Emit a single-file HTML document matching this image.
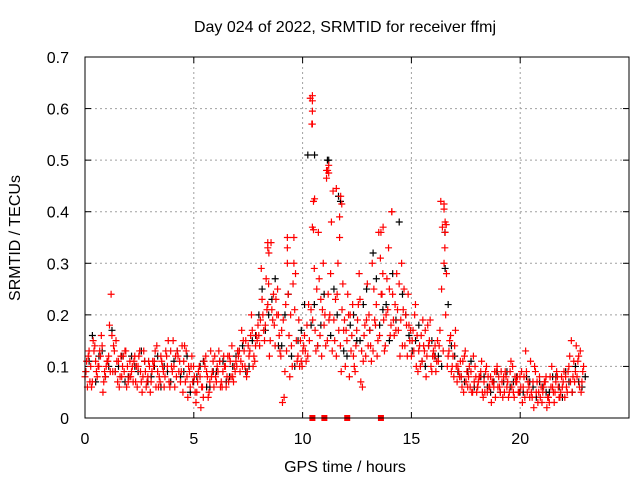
<!DOCTYPE html>
<html><head><meta charset="utf-8"><style>
body{margin:0;background:#fff;}
svg{display:block;font-family:"Liberation Sans",sans-serif;}
</style></head><body>
<svg id="chart" width="640" height="480" viewBox="0 0 640 480" xmlns="http://www.w3.org/2000/svg">
<rect width="640" height="480" fill="#fff"/>
<text x="345" y="32" text-anchor="middle" font-size="16" fill="#000">Day 024 of 2022, SRMTID for receiver ffmj</text>
<text x="345" y="472" text-anchor="middle" font-size="16" fill="#000">GPS time / hours</text>
<text x="20" y="238" text-anchor="middle" font-size="16" fill="#000" transform="rotate(-90 20 238)">SRMTID / TECUs</text>
<g id="grid"></g>
<g id="ticks"></g>
<g id="marks"></g>
<rect x="85" y="57" width="544" height="361" fill="none" stroke="#000" stroke-width="1"/>
</svg>
<script>
const xTicks=[0,5,10,15,20];
const yTicks=[0,0.1,0.2,0.3,0.4,0.5,0.6,0.7];
const yTickLabels=["0","0.1","0.2","0.3","0.4","0.5","0.6","0.7"];
const redAStart=0, redAStep=0.15;
const redA=[.08,.12,.06,.14,.10,.16,.09,.11,.24,.13,.07,.12,.09,.10,.08,.11,.06,.09,.13,.07,.05,.10,.14,.07,.09,.12,.06,.15,.08,.11,.05,.13,.09,.07,.03,.10,.06,.12,.05,.09,.08,.13,.06,.10,.07,.14,.09,.12,.17,.10,.14,.20,.11,.18,.29,.15,.22,.34,.18,.25,.12,.04,.30,.20,.35,.11,.15,.14,.18,.62,.42,.25,.16,.30,.48,.20,.44,.12,.35,.26,.17,.08,.22,.14,.28,.06,.12,.20,.30,.18,.36,.24,.14,.33,.40,.22,.17,.30,.14,.24,.12,.20,.09,.16,.13,.18,.10,.12,.15,.42,.30,.10,.16,.08,.07,.11,.05,.09,.06,.12,.05,.08,.04,.10,.06,.07,.09,.06,.04,.08,.05,.10,.07,.05,.03,.13,.06,.04,.09,.05,.03,.07,.04,.10,.05,.06,.08,.04,.09,.15,.07,.11,.05];
const redBStart=0.075, redBStep=0.15;
const redB=[.11,.07,.15,.09,.13,.05,.10,.18,.09,.15,.06,.10,.13,.08,.10,.07,.12,.05,.09,.11,.09,.13,.06,.11,.08,.15,.10,.06,.12,.09,.14,.04,.10,.08,.07,.02,.11,.08,.13,.06,.10,.06,.12,.08,.11,.07,.10,.09,.15,.08,.13,.10,.16,.14,.20,.27,.12,.19,.23,.16,.03,.22,.16,.10,.28,.19,.10,.13,.22,.57,.17,.36,.12,.20,.24,.38,.15,.30,.09,.19,.24,.13,.10,.19,.07,.16,.26,.14,.25,.12,.31,.19,.27,.16,.19,.28,.12,.21,.18,.15,.17,.10,.14,.19,.08,.15,.12,.09,.14,.37,.20,.13,.10,.17,.09,.06,.13,.08,.05,.10,.07,.11,.05,.08,.03,.09,.06,.09,.05,.07,.11,.04,.08,.06,.08,.05,.11,.02,.07,.04,.06,.02,.08,.05,.09,.04,.07,.06,.12,.08,.14,.06,.09];
const redCStart=0.037, redCStep=0.15;
const redC=[.09,.13,.07,.11,.10,.14,.08,.12,.16,.09,.11,.08,.13,.07,.09,.12,.10,.07,.11,.08,.07,.11,.09,.12,.06,.10,.13,.10,.13,.07,.11,.08,.06,.10,.05,.08,.04,.09,.07,.11,.07,.11,.09,.06,.12,.08,.11,.13,.10,.15,.12,.17,.14,.16,.23,.18,.26,.21,.14,.20,.17,.09,.24,.14,.21,.12,.11,.16,.12,.21,.29,.14,.23,.18,.15,.28,.19,.24,.14,.17,.15,.20,.12,.17,.23,.11,.19,.17,.13,.22,.16,.28,.20,.25,.24,.17,.26,.14,.20,.18,.15,.22,.13,.11,.17,.14,.09,.14,.11,.25,.33,.12,.09,.14,.10,.08,.12,.06,.09,.07,.06,.09,.07,.05,.08,.06,.10,.05,.08,.06,.09,.05,.07,.08,.06,.09,.04,.07,.05,.08,.05,.08,.03,.06,.07,.04,.06,.08,.10,.05,.09,.12,.07];
const redDStart=0.112, redDStep=0.15;
const redD=[.06,.10,.13,.08,.12,.07,.11,.09,.14,.11,.08,.12,.06,.11,.07,.10,.13,.08,.06,.10,.11,.06,.08,.10,.13,.07,.09,.12,.09,.14,.07,.10,.12,.05,.09,.06,.10,.04,.08,.12,.09,.07,.10,.12,.08,.10,.13,.11,.13,.09,.16,.12,.15,.19,.17,.21,.15,.24,.20,.13,.19,.13,.08,.26,.15,.10,.13,.11,.15,.19,.13,.27,.21,.14,.19,.13,.23,.17,.21,.10,.20,.16,.09,.22,.13,.18,.14,.11,.19,.15,.24,.13,.21,.18,.16,.21,.19,.25,.12,.17,.13,.16,.10,.14,.12,.19,.13,.11,.17,.13,.28,.15,.12,.10,.08,.11,.07,.10,.05,.08,.08,.05,.09,.06,.07,.04,.08,.07,.09,.04,.06,.08,.05,.09,.04,.07,.05,.10,.03,.06,.07,.04,.06,.03,.08,.05,.09,.05,.07,.11,.08,.13,.10];
const blackStart=0.04, blackStep=0.3;
const blackVals=[.09,.16,.12,.08,.17,.10,.07,.12,.09,.11,.08,.12,.10,.07,.13,.09,.05,.08,.11,.06,.09,.11,.08,.12,.14,.10,.16,.25,.20,.27,.14,.24,.10,.17,.51,.22,.18,.50,.25,.42,.12,.20,.15,.25,.32,.18,.22,.28,.38,.20,.13,.18,.10,.15,.12,.36,.14,.09,.07,.11,.06,.08,.05,.09,.07,.06,.08,.05,.07,.04,.06,.05,.08,.04,.07,.10,.06];
const black2Start=0.19, black2Step=0.3;
const black2Vals=[.11,.07,.13,.10,.09,.12,.08,.10,.13,.07,.10,.06,.09,.11,.08,.12,.07,.10,.06,.09,.11,.07,.10,.13,.09,.15,.20,.17,.23,.14,.20,.12,.15,.22,.18,.14,.24,.16,.20,.13,.18,.15,.22,.17,.27,.21,.15,.19,.24,.16,.15,.11,.14,.12,.10,.22,.12,.08,.09,.06,.08,.06,.07,.05,.09,.07,.05,.08,.06,.07,.05,.08,.06,.09,.05,.07,.08];
const redExtraX=[10.45,10.45,10.45,10.45,10.55,10.5,10.45,11.2,11.15,11.2,11.1,11.55,11.75,11.8,11.7,16.5,16.5,16.55,16.6,16.55,14.1,13.7,13.6,8.4,8.4,8.45,9.3,9.3,9.6];
const redExtraY=[.625,.615,.595,.57,.425,.365,.37,.49,.48,.475,.465,.445,.43,.415,.39,.415,.405,.38,.375,.36,.40,.37,.36,.34,.33,.32,.35,.33,.30];
const blackExtraX=[10.55,11.2,11.65,16.55];
const blackExtraY=[.51,.50,.43,.29];
const gapX=[10.45,11.0,12.05,13.6];

const NS="http://www.w3.org/2000/svg";
const L=85,R=629,T=57,B=418,XMAX=25,YMAX=0.7;
function sx(v){return L+(v/XMAX)*(R-L);}
function sy(v){return B-(v/YMAX)*(B-T);}
function mk(tag,attrs,parent){const e=document.createElementNS(NS,tag);for(const k in attrs)e.setAttribute(k,attrs[k]);parent.appendChild(e);return e;}
const grid=document.getElementById('grid'),ticks=document.getElementById('ticks'),marks=document.getElementById('marks');
xTicks.forEach(v=>{
  const x=sx(v);
  if(v>0){const g=mk('line',{x1:x,x2:x,y1:T,y2:B,stroke:'#a0a0a0','stroke-dasharray':'2,3'},grid);
  
  }
  mk('line',{x1:x,x2:x,y1:B,y2:B-6,stroke:'#000'},ticks);
  mk('line',{x1:x,x2:x,y1:T,y2:T+6,stroke:'#000'},ticks);
  const t=mk('text',{x:x,y:444,'text-anchor':'middle','font-size':16,fill:'#000'},ticks);
  t.textContent=String(v);
  
  
});
yTicks.forEach((v,i)=>{
  const y=sy(v);
  if(v>0&&v<YMAX){const g=mk('line',{x1:L,x2:R,y1:y,y2:y,stroke:'#a0a0a0','stroke-dasharray':'2,3'},grid);
  
  }
  mk('line',{x1:L,x2:L+6,y1:y,y2:y,stroke:'#000'},ticks);
  mk('line',{x1:R,x2:R-6,y1:y,y2:y,stroke:'#000'},ticks);
  const t=mk('text',{x:69,y:y+6,'text-anchor':'end','font-size':16,fill:'#000'},ticks);
  t.textContent=yTickLabels[i];
  
  
});
function plus(xv,yv,color,name){
  const x=sx(xv),y=sy(yv);
  const p=mk('path',{d:`M${x-3.5} ${y}H${x+3.5}M${x} ${y-3.5}V${y+3.5}`,stroke:color,'stroke-width':1.2,fill:'none'},marks);
  
  
}
blackVals.forEach((v,i)=>plus(blackStart+i*blackStep,v,'#000','black-point'));
black2Vals.forEach((v,i)=>plus(black2Start+i*black2Step,v,'#000','black-point'));
blackExtraX.forEach((v,i)=>plus(v,blackExtraY[i],'#000','black-point'));
redA.forEach((v,i)=>plus(redAStart+i*redAStep,v,'#f00','red-point'));
redB.forEach((v,i)=>plus(redBStart+i*redBStep,v,'#f00','red-point'));
redC.forEach((v,i)=>plus(redCStart+i*redCStep,v,'#f00','red-point'));
redD.forEach((v,i)=>plus(redDStart+i*redDStep,v,'#f00','red-point'));
redExtraX.forEach((v,i)=>plus(v,redExtraY[i],'#f00','red-point'));
gapX.forEach(v=>{
  const r=mk('rect',{x:sx(v)-3,y:B-3,width:6,height:6,fill:'#f00'},marks);
  
  
});
</script>
</body></html>
